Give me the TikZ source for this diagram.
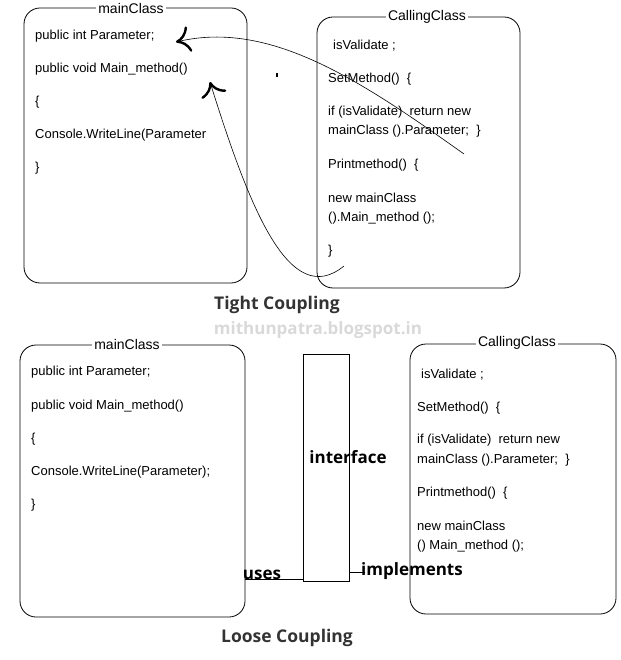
\documentclass[tikz,border=0pt]{standalone}
\usepackage{fontspec}
\setmainfont{Liberation Sans}
\newfontfamily\titlefont{Open Sans}
\usetikzlibrary{arrows.meta}
\begin{document}
\begin{tikzpicture}[x=1pt,y=-1pt,
  box/.style={draw,rounded corners=16pt,line width=0.8pt},
  ttl/.style={fill=white,inner sep=2pt,font=\fontsize{14}{14}\selectfont},
  code/.style={anchor=west,inner sep=0pt,font=\fontsize{13}{13}\selectfont},
  head/.style={font=\titlefont\bfseries\fontsize{17.5}{17.5}\selectfont,text=black!80},
  lab/.style={font=\titlefont\bfseries\fontsize{17}{17}\selectfont},
  arr/.style={-{To[length=14pt,width=26pt,line width=2.4pt]},line width=0.6pt}]
\useasboundingbox (0,0) rectangle (620,660);
% top
\draw[box] (24,8) rectangle (247,283);
\node[ttl] (t1) at (131,8) {mainClass};
\draw[box] (317,17) rectangle (520,288);
\node[ttl] (t2) at (427,17) {CallingClass};
\node[code] (a1) at (35,36) {public int Parameter;};
\node[code] (a2) at (35,69) {public void Main\_method()};
\node[code] (a3) at (35,102) {\{};
\node[code] (a4) at (35,135) {Console.WriteLine(Parameter};
\node[code] (a5) at (35,168) {\}};
\node[code] (b1) at (333,46) {isValidate ;};
\node[code] (b2) at (328,79) {SetMethod()\ \ \{};
\node[code] (b3) at (328,112) {if (isValidate)\ \ return new};
\node[code] (b4) at (328,131) {mainClass ().Parameter;\ \ \}};
\node[code] (b5) at (328,165) {Printmethod()\ \ \{};
\node[code] (b6) at (328,198) {new mainClass};
\node[code] (b7) at (328,218) {().Main\_method ();};
\node[code] (b8) at (328,251) {\}};
\coordinate (s1) at (464,154);
\coordinate (s2) at (344,266);
\draw[arr] (s1) .. controls (360,80) and (270,20) .. (176,42);
\draw[arr] (s2) .. controls (290,310) and (250,210) .. (210,82);
\fill (276,73) rectangle (278,77);
\node[head] (tc) at (277,305) {Tight Coupling};
\node[font=\titlefont\bfseries\fontsize{17}{17}\selectfont,text=black!15] (wm) at (318,330) {mithunpatra.blogspot.in};
% bottom
\draw[box] (20,345) rectangle (245,617);
\node[ttl] (t3) at (127,344) {mainClass};
\draw[box] (410,344) rectangle (616,614);
\node[ttl] (t4) at (517,343) {CallingClass};
\node[code] (c1) at (31,372) {public int Parameter;};
\node[code] (c2) at (31,406) {public void Main\_method()};
\node[code] (c3) at (31,439) {\{};
\node[code] (c4) at (31,472) {Console.WriteLine(Parameter);};
\node[code] (c5) at (31,505) {\}};
\node[code] (d1) at (421,375) {isValidate ;};
\node[code] (d2) at (417,408) {SetMethod()\ \ \{};
\node[code] (d3) at (417,440) {if (isValidate)\ \ return new};
\node[code] (d4) at (417,460) {mainClass ().Parameter;\ \ \}};
\node[code] (d5) at (417,493) {Printmethod()\ \ \{};
\node[code] (d6) at (417,526) {new mainClass};
\node[code] (d7) at (417,546) {() Main\_method ();};
\node[draw,line width=0.8pt,minimum width=46pt,minimum height=227pt,inner sep=0pt] (if) at (326,467.5) {};
\node[lab] (ift) at (348,457) {interface};
\node[lab] (us) at (262,575) {uses};
\node[lab] (im) at (412,571) {implements};
\coordinate (ul) at (245,579);
\coordinate (ir) at (365,572);
\draw[line width=0.8pt] (ul) -- (ul -| if.west);
\draw[line width=0.8pt] (if.east |- ir) -- (ir);
\node[head] (lc) at (287,638) {Loose Coupling};
\end{tikzpicture}
\end{document}
